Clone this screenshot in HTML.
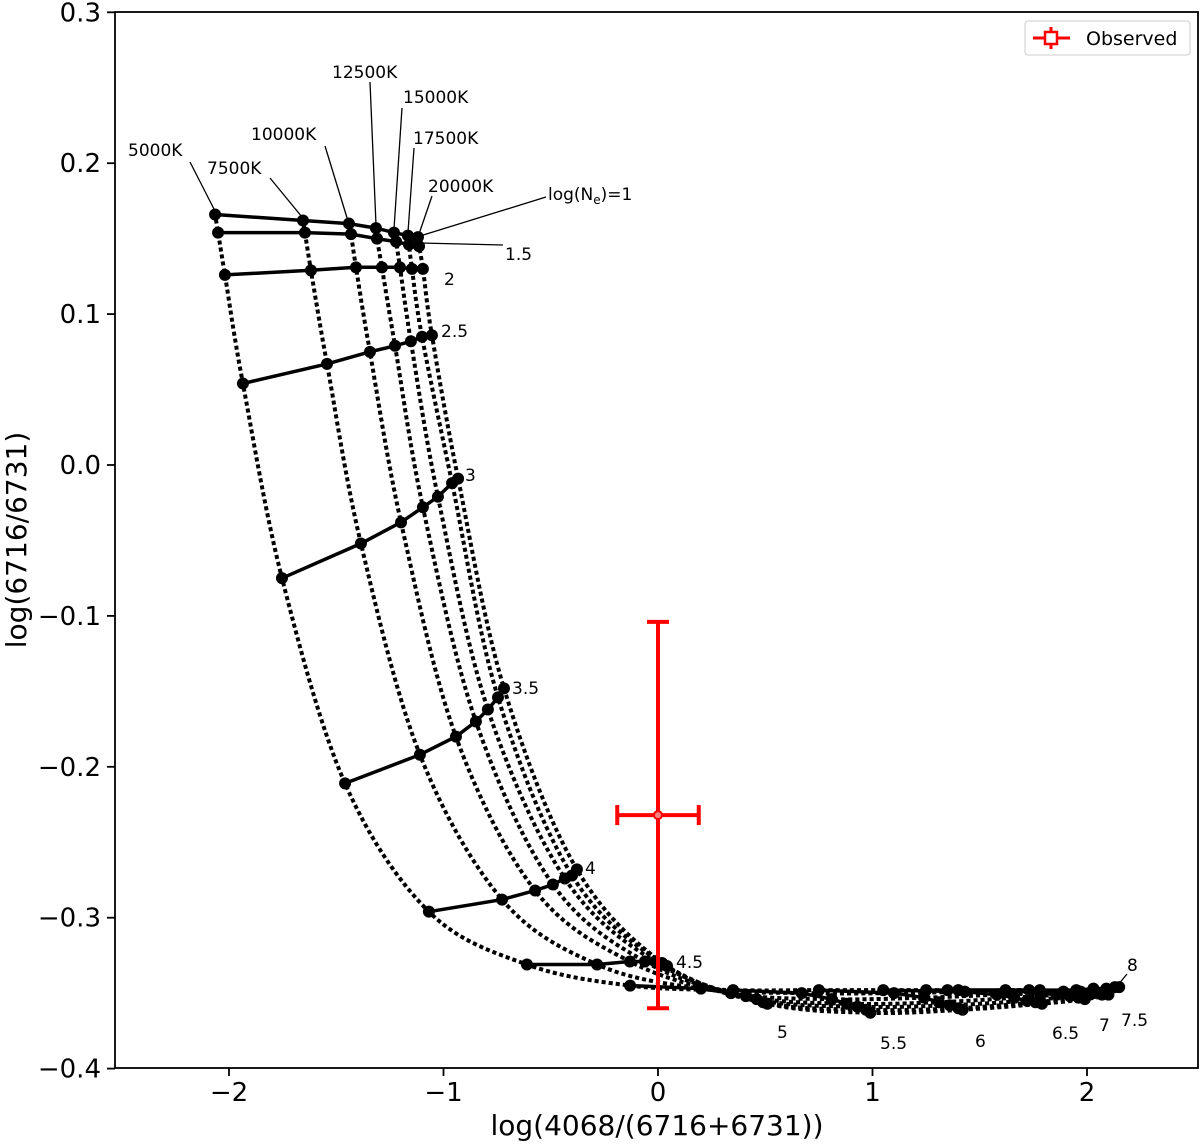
<!DOCTYPE html>
<html><head><meta charset="utf-8"><style>
body{margin:0;background:#fff;font-family:"Liberation Sans","DejaVu Sans",sans-serif}
svg text{font-family:"DejaVu Sans","Liberation Sans",sans-serif}
</style></head><body>
<svg id="chart" width="1200" height="1141" xmlns="http://www.w3.org/2000/svg">
<g id="grid-dotted"></g>
<g id="grid-solid"></g>
<g id="annot"></g>
<g id="obs"></g>
<g id="axes"></g>
</svg>
<script>
const densities = ["1","1.5","2","2.5","3","3.5","4","4.5","5","5.5","6","6.5","7","7.5","8"];
const temps = ["5000K","7500K","10000K","12500K","15000K","17500K","20000K"];
const xVals = [
 [-2.065,-1.655,-1.441,-1.315,-1.231,-1.166,-1.119],
 [-2.051,-1.646,-1.431,-1.310,-1.221,-1.161,-1.114],
 [-2.019,-1.618,-1.408,-1.287,-1.203,-1.147,-1.096],
 [-1.935,-1.543,-1.343,-1.226,-1.152,-1.100,-1.054],
 [-1.753,-1.385,-1.198,-1.096,-1.026,-0.960,-0.932],
 [-1.459,-1.110,-0.942,-0.849,-0.793,-0.746,-0.718],
 [-1.068,-0.727,-0.573,-0.490,-0.434,-0.401,-0.378],
 [-0.611,-0.284,-0.131,-0.061,-0.014,0.019,0.042],
 [-0.13,0.2,0.34,0.41,0.46,0.49,0.51],
 [0.35,0.67,0.81,0.88,0.93,0.97,0.99],
 [0.75,1.1,1.24,1.31,1.36,1.4,1.42],
 [1.05,1.43,1.58,1.66,1.72,1.76,1.79],
 [1.25,1.62,1.78,1.86,1.92,1.96,1.99],
 [1.35,1.73,1.89,1.97,2.03,2.07,2.1],
 [1.4,1.78,1.95,2.03,2.09,2.13,2.15]
];
const yVals = [
 [0.166,0.162,0.160,0.157,0.154,0.152,0.151],
 [0.154,0.154,0.153,0.150,0.148,0.146,0.145],
 [0.126,0.129,0.131,0.131,0.131,0.130,0.130],
 [0.054,0.067,0.075,0.079,0.082,0.085,0.086],
 [-0.075,-0.052,-0.038,-0.028,-0.021,-0.012,-0.009],
 [-0.211,-0.192,-0.180,-0.170,-0.162,-0.154,-0.148],
 [-0.296,-0.288,-0.282,-0.278,-0.274,-0.272,-0.268],
 [-0.331,-0.331,-0.329,-0.329,-0.329,-0.330,-0.332],
 [-0.345,-0.347,-0.350,-0.352,-0.354,-0.356,-0.357],
 [-0.348,-0.350,-0.354,-0.357,-0.359,-0.361,-0.363],
 [-0.348,-0.350,-0.353,-0.356,-0.358,-0.360,-0.361],
 [-0.348,-0.349,-0.351,-0.353,-0.355,-0.356,-0.357],
 [-0.348,-0.348,-0.350,-0.351,-0.352,-0.353,-0.354],
 [-0.348,-0.348,-0.349,-0.349,-0.350,-0.351,-0.351],
 [-0.348,-0.348,-0.348,-0.347,-0.347,-0.346,-0.346]
];
const obsX = 0.0, obsXErr = 0.19, obsY = -0.232, obsYErr = 0.128;
const xTicks = [-2,-1,0,1,2];
const xTickLabels = ["\u22122","\u22121","0","1","2"];
const yTicks = [0.3,0.2,0.1,0.0,-0.1,-0.2,-0.3,-0.4];
const yTickLabels = ["0.3","0.2","0.1","0.0","\u22120.1","\u22120.2","\u22120.3","\u22120.4"];

const L=115,R=1198,T=12,B=1068;
const X=v=>658+214.5*v;
const Y=v=>465-1509*v;
const NS="http://www.w3.org/2000/svg";
function mk(tag,parent,attrs){const e=document.createElementNS(NS,tag);for(const k in attrs)e.setAttribute(k,attrs[k]);parent.appendChild(e);return e;}
function smooth(P){
  let d='M'+P[0][0].toFixed(1)+','+P[0][1].toFixed(1);
  for(let i=0;i<P.length-1;i++){
    const p0=P[Math.max(0,i-1)],p1=P[i],p2=P[i+1],p3=P[Math.min(P.length-1,i+2)];
    const c1=[p1[0]+(p2[0]-p0[0])/6,p1[1]+(p2[1]-p0[1])/6];
    const c2=[p2[0]-(p3[0]-p1[0])/6,p2[1]-(p3[1]-p1[1])/6];
    d+=' C'+c1.map(v=>v.toFixed(1)).join(',')+' '+c2.map(v=>v.toFixed(1)).join(',')+' '+p2.map(v=>v.toFixed(1)).join(',');
  }
  return d;
}

const gd=document.getElementById('grid-dotted');
for(let t=0;t<temps.length;t++){
  const P=densities.map((d,i)=>[X(xVals[i][t]),Y(yVals[i][t])]);
  const p=mk('path',gd,{d:smooth(P),fill:'none',stroke:'#000','stroke-width':4,'stroke-dasharray':'0.1,7','stroke-linecap':'square'});
  
  
}
const gs=document.getElementById('grid-solid');
for(let i=0;i<densities.length;i++){
  let pts=xVals[i].map((x,t)=>X(x).toFixed(1)+','+Y(yVals[i][t]).toFixed(1)).join(' ');
  const p=mk('polyline',gs,{points:pts,fill:'none',stroke:'#000','stroke-width':3.5});
  
  
  for(let t=0;t<temps.length;t++){
    const c=mk('circle',gs,{cx:X(xVals[i][t]),cy:Y(yVals[i][t]),r:6,fill:'#000'});
    
    
  }
}
// observed
const go=document.getElementById('obs');
const red='#ff0000';
mk('line',go,{x1:X(obsX-obsXErr),x2:X(obsX+obsXErr),y1:Y(obsY),y2:Y(obsY),stroke:red,'stroke-width':4});
mk('line',go,{x1:X(obsX),x2:X(obsX),y1:Y(obsY+obsYErr),y2:Y(obsY-obsYErr),stroke:red,'stroke-width':4});
[X(obsX-obsXErr),X(obsX+obsXErr)].forEach(x=>mk('line',go,{x1:x,x2:x,y1:Y(obsY)-10,y2:Y(obsY)+10,stroke:red,'stroke-width':4}));
[Y(obsY+obsYErr),Y(obsY-obsYErr)].forEach(y=>mk('line',go,{x1:X(obsX)-11,x2:X(obsX)+11,y1:y,y2:y,stroke:red,'stroke-width':4}));
mk('circle',go,{cx:X(obsX),cy:Y(obsY),r:4,fill:'#ff8080',stroke:red,'stroke-width':2});

// annotations
const ga=document.getElementById('annot');
const lines=[[190,162,215,211],[270,178,302,217],[325,146,348,221],[370,82,376,225],[402,108,394,229],[414,148,408,232],[432,196,419,234],[546,197,420,236],[503,245,420,243],[1127,974,1118,985]];
lines.forEach(l=>mk('line',ga,{x1:l[0],y1:l[1],x2:l[2],y2:l[3],stroke:'#000','stroke-width':1.3}));
const labels=[["5000K",128,156],["7500K",207,174],["10000K",251,140],["12500K",332,78],["15000K",403,103],["17500K",413,144],["20000K",428,192],
["1.5",505,260],["2",444,285],["2.5",441,337],["3",465,481],["3.5",512,694],["4",585,874],["4.5",676,968],["5",777,1038],["5.5",880,1049],["6",975,1047],["6.5",1052,1039],["7",1099,1031],["7.5",1121,1026],["8",1127,971]];
labels.forEach(l=>{const t=mk('text',ga,{x:l[1],y:l[2],'font-size':17,fill:'#000'});t.textContent=l[0];
 });
const ne=mk('text',ga,{x:548,y:200,'font-size':17});
ne.innerHTML='log(N<tspan font-size="12" dy="4">e</tspan><tspan dy="-4">)=1</tspan>';

// axes
const gx=document.getElementById('axes');
mk('rect',gx,{x:L,y:T,width:R-L,height:B-T,fill:'none',stroke:'#000','stroke-width':1.8});
xTicks.forEach((v,i)=>{mk('line',gx,{x1:X(v),x2:X(v),y1:B,y2:B+8,stroke:'#000','stroke-width':1.8});
 const t=mk('text',gx,{x:X(v),y:B+33,'font-size':26,'text-anchor':'middle'});t.textContent=xTickLabels[i];
 });
yTicks.forEach((v,i)=>{mk('line',gx,{x1:L-8,x2:L,y1:Y(v),y2:Y(v),stroke:'#000','stroke-width':1.8});
 const t=mk('text',gx,{x:L-14,y:Y(v)+9,'font-size':26,'text-anchor':'end'});t.textContent=yTickLabels[i];
 });
const xt=mk('text',gx,{x:657,y:1135,'font-size':28,'text-anchor':'middle'});xt.textContent='log(4068/(6716+6731))';

const yt=mk('text',gx,{x:0,y:0,'font-size':28,'text-anchor':'middle',transform:'translate(26,540) rotate(-90)'});yt.textContent='log(6716/6731)';

// legend
const lg=mk('g',gx,{});

mk('rect',lg,{x:1025,y:21,width:165,height:34,rx:3,fill:'#fff',stroke:'#ccc','stroke-width':1});
mk('line',lg,{x1:1033,x2:1070,y1:38,y2:38,stroke:red,'stroke-width':3});
mk('line',lg,{x1:1051,x2:1051,y1:27,y2:49,stroke:red,'stroke-width':3});
mk('rect',lg,{x:1045,y:32,width:12,height:12,fill:'#fff',stroke:red,'stroke-width':2.5});
const lt=mk('text',lg,{x:1086,y:45,'font-size':19});lt.textContent='Observed';
</script>
</body></html>
